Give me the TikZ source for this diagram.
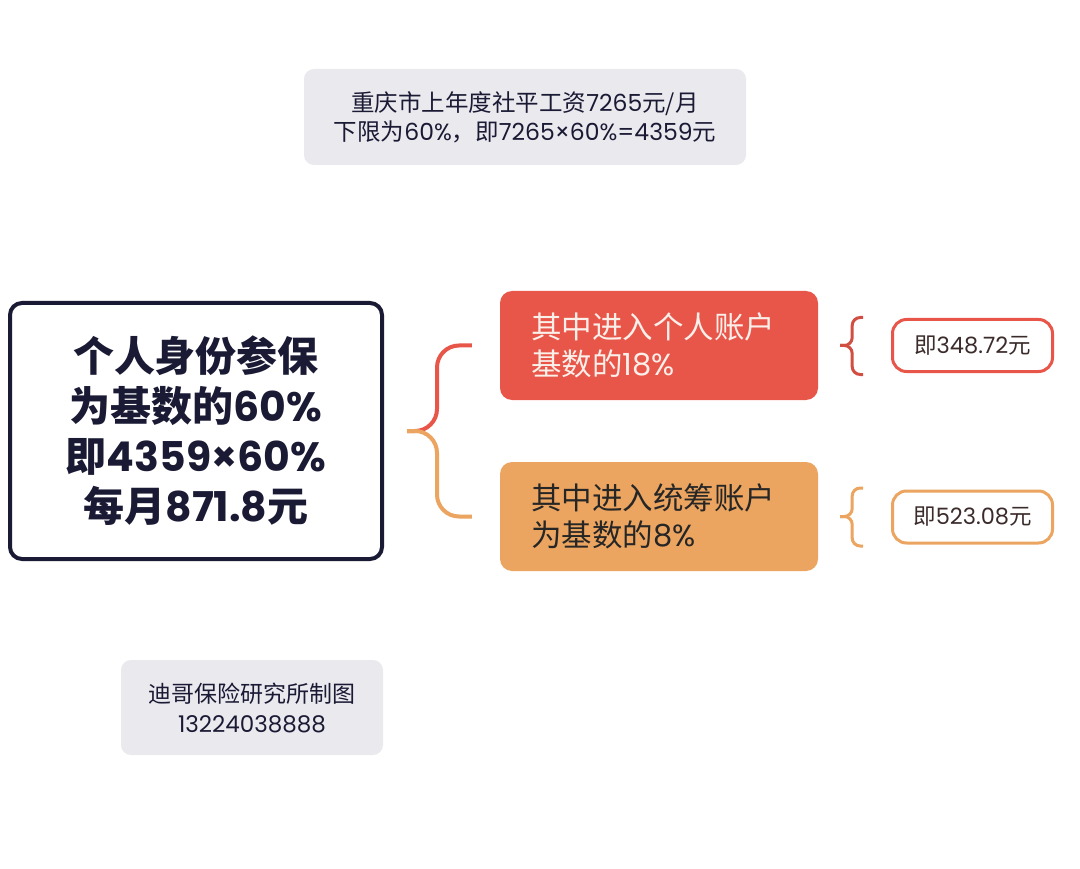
\documentclass[tikz,border=0pt]{standalone}
\usepackage{fontspec}
\setmainfont{Noto Sans CJK SC}
\newfontfamily\latfont{Poppins}
\newcommand{\lat}[1]{{\latfont #1}}
\usetikzlibrary{calc}
\definecolor{navy}{HTML}{1A1A35}
\definecolor{softgray}{HTML}{EAE9EE}
\definecolor{coral}{HTML}{E8564A}
\definecolor{sand}{HTML}{EBA560}
\definecolor{inkbrown}{HTML}{3B2B2B}
\definecolor{paleink}{HTML}{FBEFEA}

\begin{document}
\begin{tikzpicture}[x=1pt,y=-1pt,
			note/.style={fill=softgray,rounded corners=10pt,align=center,text=navy},
			main/.style={draw=navy,line width=4pt,rounded corners=12pt,fill=white,minimum width=372pt,minimum height=256pt,align=center,font=\fontsize{41}{50}\selectfont\bfseries,text=navy},
			part/.style={rounded corners=12pt,minimum width=318pt,minimum height=109pt,text width=256pt,align=left,font=\fontsize{30.5}{37}\selectfont},
			val/.style={draw,line width=3pt,rounded corners=14pt,fill=white,minimum width=160pt,minimum height=52pt,font=\fontsize{22.5}{25}\selectfont,text=inkbrown},
			brace/.style={line width=4pt,rounded corners=22pt},
			sbrace/.style={line width=3pt,rounded corners=8pt}
			]
			\fill[white] (0,0) rectangle (1080,869);
			\node[note,minimum width=442pt,minimum height=96pt,font=\fontsize{23.5}{29}\selectfont] (base) at (525,117) {重庆市上年度社平工资\lat{7265}元/月\\下限为\lat{60\%}，即\lat{7265×60\%=4359}元};
			\node[main] (main) at (196,431) {个人身份参保\\为基数的\lat{60\%}\\即\lat{4359×60\%}\\每月\lat{871.8}元};
			\node[part,fill=coral,text=paleink] (red) at (659,345.5) {其中进入个人账户\\基数的\lat{18\%}};
			\node[part,fill=sand,text=black!85] (orange) at (659,516.5) {其中进入统筹账户\\为基数的\lat{8\%}};
			\node[val,draw=coral] (v1) at (972.5,345.5) {即\lat{348.72}元};
			\node[val,draw=sand] (v2) at (972.5,517) {即\lat{523.08}元};
			\node[note,minimum width=262pt,minimum height=95pt,font=\fontsize{23}{30}\selectfont] (credit) at (252,707.5) {迪哥保险研究所制图\\\lat{13224038888}};
			% big brace
			\coordinate (tip) at ($(main.east)+(23,0)$);
			\draw[brace,coral] (tip) -- ++(30,0) |- ($(red.west)+(-28,0)$);
			\draw[brace,sand] (tip) -- ++(30,0) |- ($(orange.west)+(-28,0)$);
			% small braces
			\coordinate (t1) at ($(red.east)+(22,0)$);
			\coordinate (t2) at ($(orange.east)+(22,0)$);
			\draw[sbrace,coral!90!black] (t1) -- ++(12,0) |- ($(v1.west)+(-28,-28)$);
			\draw[sbrace,coral!90!black] (t1) -- ++(12,0) |- ($(v1.west)+(-28,29)$);
			\draw[sbrace,sand] (t2) -- ++(12,0) |- ($(v2.west)+(-28,-29)$);
			\draw[sbrace,sand] (t2) -- ++(12,0) |- ($(v2.west)+(-28,29)$);
		\end{tikzpicture}
\end{document}
